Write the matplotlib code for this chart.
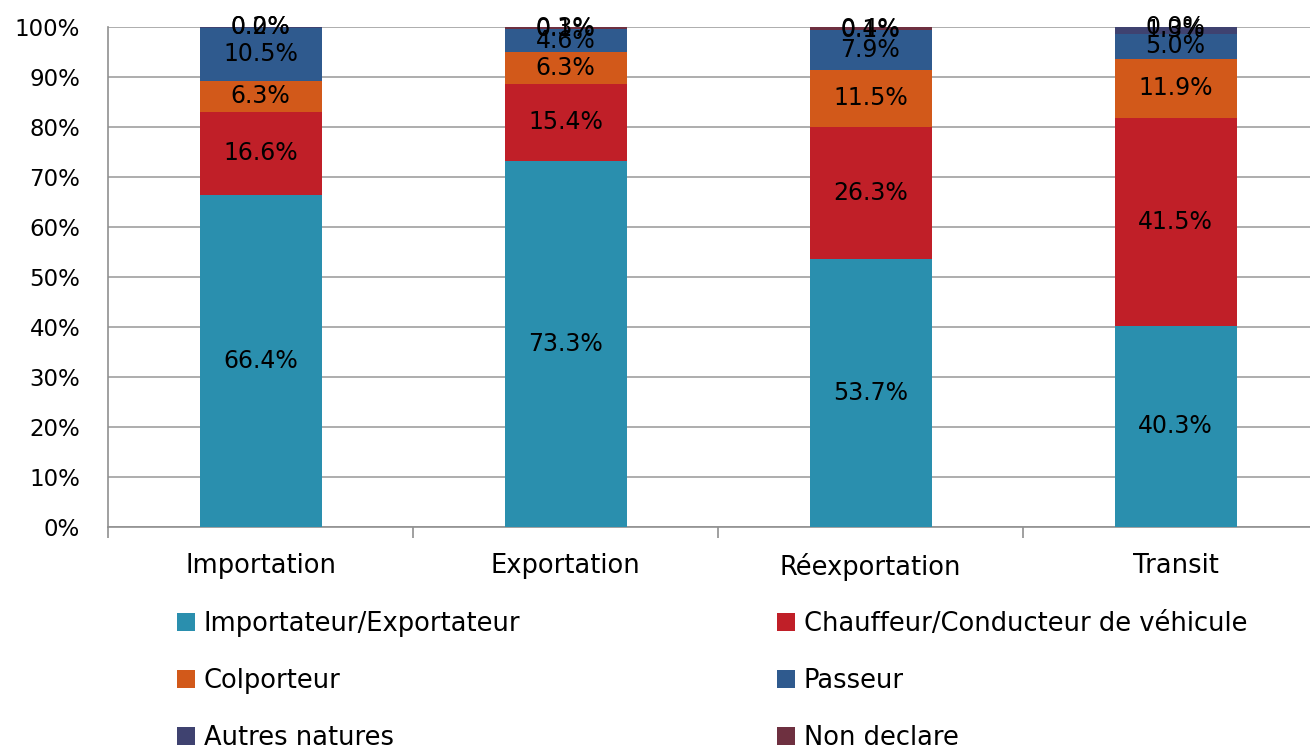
import matplotlib
matplotlib.use("Agg")
import matplotlib.pyplot as plt
import numpy as np
from matplotlib.patches import Patch

categories = ["Importation", "Exportation", "Réexportation", "Transit"]
series_names = ["Importateur/Exportateur", "Chauffeur/Conducteur de véhicule",
                "Colporteur", "Passeur", "Autres natures", "Non declare"]
importateur = [66.4, 73.3, 53.7, 40.3]
chauffeur = [16.6, 15.4, 26.3, 41.5]
colporteur = [6.3, 6.3, 11.5, 11.9]
passeur = [10.5, 4.6, 7.9, 5.0]
autres = [0.2, 0.1, 0.1, 1.3]
non_declare = [0.0, 0.3, 0.4, 0.0]
series = [importateur, chauffeur, colporteur, passeur, autres, non_declare]
colors = ["#2A8FAE", "#C01F28", "#D2591A", "#2F5A8E", "#3F4270", "#6E3040"]

plt.rcParams['font.family'] = ['DejaVu Sans']
fig = plt.figure(figsize=(13.10, 7.49), dpi=100)
W, H = 1310, 749
left, right, top, bottom = 108, 1328, 27, 527
ax = fig.add_axes([left / W, 1 - bottom / H, (right - left) / W, (bottom - top) / H])

x = np.arange(len(categories))
base = np.zeros(len(categories))
for vals, col in zip(series, colors):
    v = np.array(vals)
    ax.bar(x, v, 0.4, bottom=base, color=col, zorder=3)
    for xi, b, vi in zip(x, base, v):
        ax.text(xi, b + vi / 2, f"{vi:.1f}%", ha="center", va="center",
                fontsize=17, color="black", zorder=4)
    base += v

ax.set_xlim(-0.5, 3.5)
ax.set_ylim(0, 100)
ax.set_yticks(np.arange(0, 101, 10))
ax.set_yticklabels([f"{t}%" for t in range(0, 101, 10)], fontsize=16.5)
ax.yaxis.grid(True, color="#A0A0A0", linewidth=1.2, zorder=0)
ax.tick_params(axis="y", length=0, pad=20)
ax.set_xticks(x)
ax.set_xticklabels(categories, fontsize=18.5)
ax.tick_params(axis="x", length=0, pad=19)
ax.set_xticks(np.arange(-0.5, 3.6, 1), minor=True)
ax.tick_params(axis="x", which="minor", length=8, color="#909090", width=1.2)
for s in ["top", "right"]:
    ax.spines[s].set_visible(False)
for s in ["left", "bottom"]:
    ax.spines[s].set_color("#909090")
    ax.spines[s].set_linewidth(1.2)

h = [Patch(facecolor=c) for c in colors]
kw = dict(frameon=False, fontsize=18.5, handlelength=0.7, handleheight=0.7,
          handletextpad=0.35, labelspacing=1.2, borderaxespad=0, borderpad=0)
fig.legend([h[0], h[2], h[4]], [series_names[0], series_names[2], series_names[4]],
           loc="upper left", bbox_to_anchor=(177 / W, 1 - 611 / H), **kw)
fig.legend([h[1], h[3], h[5]], [series_names[1], series_names[3], series_names[5]],
           loc="upper left", bbox_to_anchor=(777 / W, 1 - 611 / H), **kw)

fig.savefig("out.png", dpi=100)
